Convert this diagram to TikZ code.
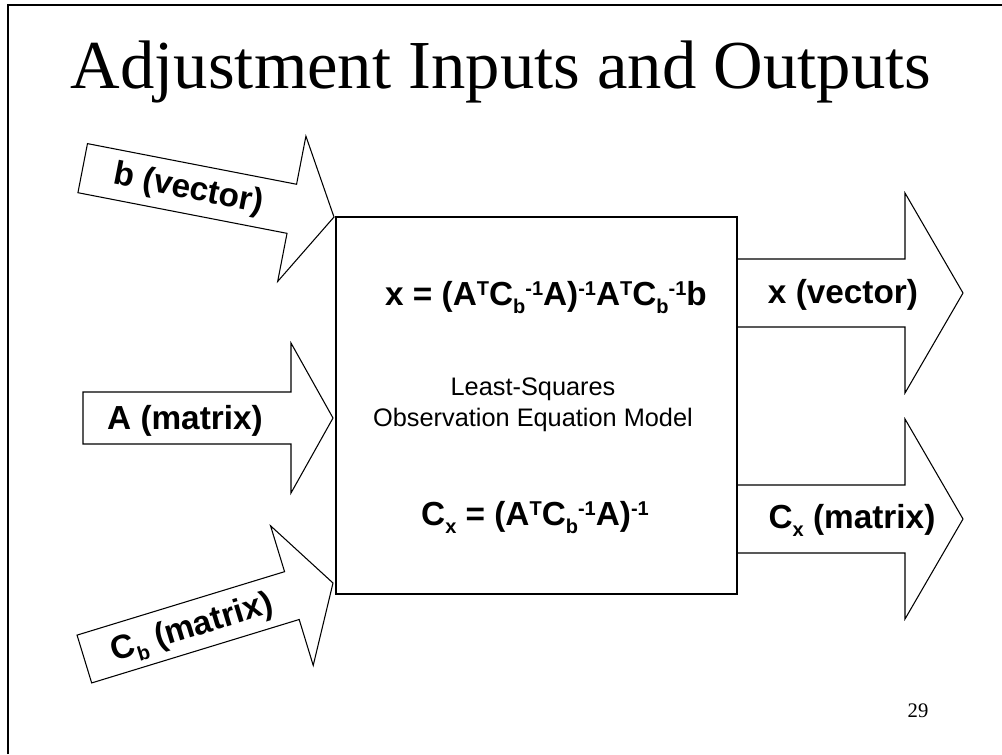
\documentclass[tikz,border=0pt]{standalone}
\usepackage{fontspec}
\setmainfont{Liberation Sans}
\newfontfamily\titlefont{Liberation Serif}
\newcommand{\sps}[1]{\raisebox{7.5pt}{\fontsize{15}{15}\selectfont#1}}
\newcommand{\sbs}[1]{\raisebox{-6pt}{\fontsize{15}{15}\selectfont#1}}
\begin{document}
\begin{tikzpicture}[x=0.75pt,y=-0.75pt,line width=0.8pt,
  every node/.style={inner sep=1pt},
  lbl/.style={font=\fontsize{25}{29}\selectfont\bfseries},
  txt/.style={font=\fontsize{19}{23}\selectfont,align=center}]
\useasboundingbox (0,0) rectangle (1002,754);
% slide frame and title
\draw[line width=1.5pt] (8,754) -- (8,5) -- (1002,5);
\node[font=\titlefont\fontsize{51.5}{60}\selectfont,anchor=base] (title) at (501,88) {Adjustment Inputs and Outputs};
\node[font=\titlefont\fontsize{15.5}{18}\selectfont,anchor=base] (page) at (918,717) {29};
% input and output arrows: tip x/tip y/angle/length/head length/shaft half/head half/label x/label y/name/label
\foreach \tx/\ty/\ang/\len/\hl/\sh/\hh/\lx/\ly/\nm/\txt in {
  334/217/-11/256/43/25/74/-148/1/bvec/{b (vector)},
  333/418/0/250/42/26/75/-148/3/amat/{A (matrix)},
  333/583/17/260/43/25/73/-148/3/cbmat/{C\sbs{b} (matrix)},
  963/293/0/226/58/34/100/-120/2/xvec/{x (vector)},
  963/519/0/226/58/34/100/-111/1/cxmat/{C\sbs{x} (matrix)}}{
  \begin{scope}[shift={(\tx,\ty)},rotate=\ang,transform shape]
    \draw (0,0) -- (-\hl,-\hh) -- (-\hl,-\sh) -- (-\len,-\sh) -- (-\len,\sh) -- (-\hl,\sh) -- (-\hl,\hh) -- cycle;
    \node[lbl] (\nm) at (\lx,\ly) {\txt};
  \end{scope}
}
% model box
\node[draw,fill=white,minimum width=300.75pt,minimum height=282.75pt,inner sep=0pt] (model) at (536.5,405.5) {};
\node[lbl,anchor=base] (eqx) at (546,305) {x = (A\sps{T}C\sbs{b}\sps{-1}A)\sps{-1}A\sps{T}C\sbs{b}\sps{-1}b};
\node[txt] (lsq) at (533,405) {Least-Squares\\Observation Equation Model};
\node[lbl,anchor=base] (eqcx) at (535,525) {C\sbs{x} = (A\sps{T}C\sbs{b}\sps{-1}A)\sps{-1}};
\end{tikzpicture}
\end{document}
